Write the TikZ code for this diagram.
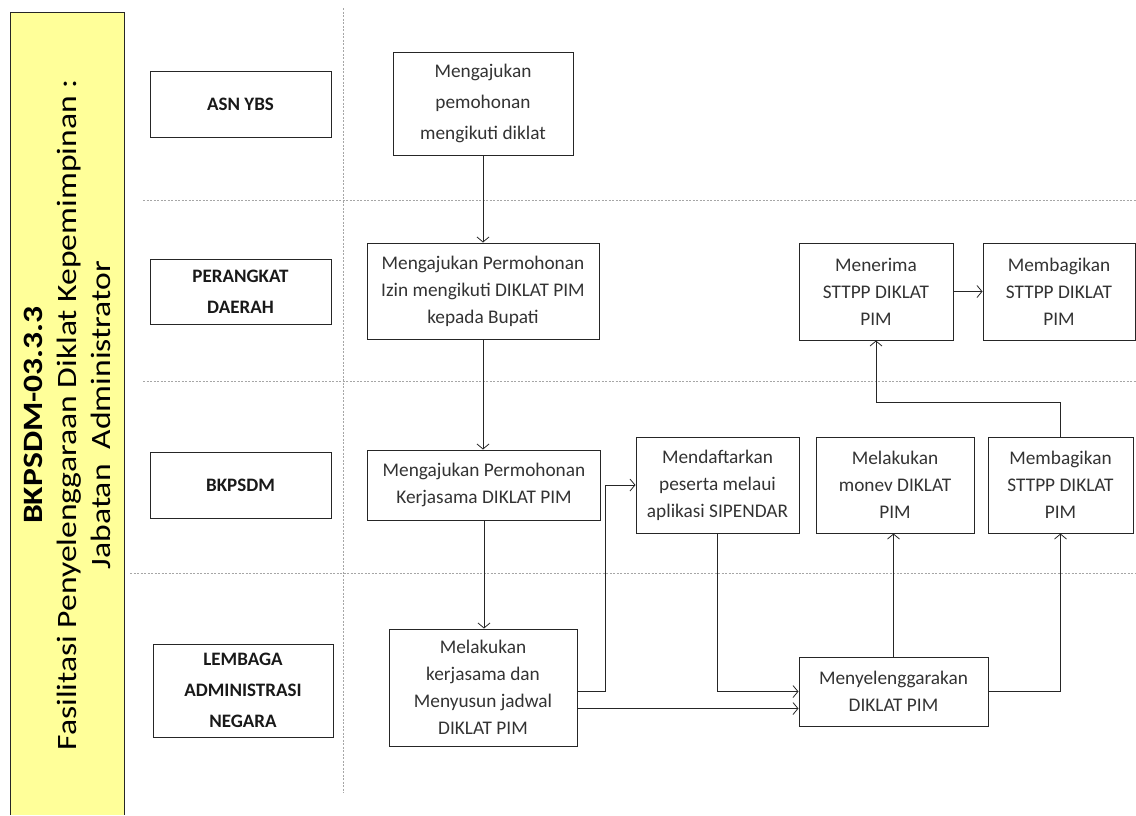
\documentclass[tikz,border=0pt]{standalone}
\usepackage{fontspec}
\usepackage{graphicx}
\setmainfont{Carlito}
\usetikzlibrary{arrows.meta,calc}
\definecolor{bary}{HTML}{FFFF99}
\begin{document}
\begin{tikzpicture}[x=1pt,y=-1pt,
  proc/.style={draw=black!85, line width=1pt, align=center, inner sep=0pt, text=black!80, font=\fontsize{19.3}{27}\selectfont},
  lane/.style={draw=black!85, line width=1pt, align=center, inner sep=0pt, text=black!90, font=\fontsize{19}{31}\selectfont\bfseries},
  arr/.style={draw=black!85, line width=0.8pt, -{Straight Barb[length=5pt,width=12pt]}},
  sep/.style={draw=black!35, line width=0.8pt, dash pattern=on 2pt off 1.5pt}]
\useasboundingbox (0,0) rectangle (1136,815);
% yellow bar
\fill[bary] (10,12) rectangle (124,815);
\draw[line width=1pt, black!85] (10,815) -- (10,12) -- (124,12) -- (124,815);
\node[rotate=90, align=center, inner sep=0pt, font=\fontsize{28}{34}\selectfont] (title) at (67,415)
  {\scalebox{1.2}[1]{\bfseries BKPSDM-03.3.3}\\
   \scalebox{1.2}[1]{Fasilitasi Penyelenggaraan Diklat Kepemimpinan :}\\
   \scalebox{1.2}[1]{Jabatan \ Administrator}};
% separators
\draw[sep] (343,8) -- (343,793);
\draw[sep] (143,200) -- (1136,200);
\draw[sep] (143,381) -- (1136,381);
\draw[sep] (130,573) -- (1136,573);
% lanes
\node[lane, minimum width=181pt, minimum height=66pt] (L1) at (240.5,104) {ASN YBS};
\node[lane, minimum width=181pt, minimum height=65pt] (L2) at (240.5,291.5) {PERANGKAT\\DAERAH};
\node[lane, minimum width=181pt, minimum height=66pt] (L3) at (240.5,485) {BKPSDM};
\node[lane, minimum width=180pt, minimum height=93pt] (L4) at (243,690.5) {LEMBAGA\\ADMINISTRASI\\NEGARA};
% process boxes
\node[proc, minimum width=180pt, minimum height=103pt, font=\fontsize{19.3}{31}\selectfont] (A) at (483,103.5) {Mengajukan\\pemohonan\\mengikuti diklat};
\node[proc, minimum width=232pt, minimum height=96pt] (B) at (483,291) {Mengajukan Permohonan\\Izin mengikuti DIKLAT PIM\\kepada Bupati};
\node[proc, minimum width=233pt, minimum height=70pt] (C) at (484,485) {Mengajukan Permohonan\\Kerjasama DIKLAT PIM};
\node[proc, minimum width=188pt, minimum height=117pt] (D) at (483,687.5) {Melakukan\\kerjasama dan\\Menyusun jadwal\\DIKLAT PIM};
\node[proc, minimum width=163pt, minimum height=96pt] (E) at (717.5,485) {Mendaftarkan\\peserta melaui\\aplikasi SIPENDAR};
\node[proc, minimum width=158pt, minimum height=96pt] (F) at (895,485) {Melakukan\\monev DIKLAT\\PIM};
\node[proc, minimum width=145pt, minimum height=96pt] (G) at (1060.5,485) {Membagikan\\STTPP DIKLAT\\PIM};
\node[proc, minimum width=154pt, minimum height=97pt] (H) at (876,291.5) {Menerima\\STTPP DIKLAT\\PIM};
\node[proc, minimum width=152pt, minimum height=97pt] (I) at (1059,291.5) {Membagikan\\STTPP DIKLAT\\PIM};
\node[proc, minimum width=189pt, minimum height=69pt] (J) at (893.5,691.5) {Menyelenggarakan\\DIKLAT PIM};
% connectors
\draw[arr] (A.south) -- (B.north);
\draw[arr] (B.south) -- (B.south |- C.north);
\draw[arr] (C.south) -- (C.south |- D.north);
\draw[arr] (D.east |- J.west) -| ([xshift=-30pt]E.west) -- (E.west);
\draw[arr] ([yshift=-17pt]D.east |- J.west) -- ([yshift=-17pt]J.west);
\draw[arr] (E.south) |- (J.west);
\draw[arr] (J.north) -- (J.north |- F.south);
\draw[arr] (J.east) -| (G.south);
\draw[arr] (G.north) -- ++(0,-34) -| (H.south);
\draw[arr] (H.east) -- (I.west);
\end{tikzpicture}
\end{document}
